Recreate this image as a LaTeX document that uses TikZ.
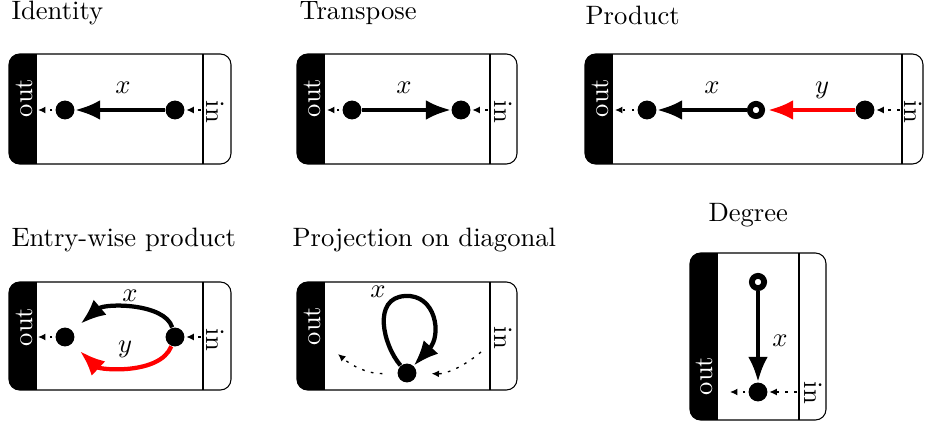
\documentclass[tikz,border=0pt]{standalone}
\usetikzlibrary{arrows.meta}
\newcommand{\dbox}[5]{%
  \begin{scope}
    \clip[rounded corners=4pt] (#1,#2) rectangle (#3,#4);
    \fill[black] (#1,#2) rectangle ({#1+28},#4);
  \end{scope}
  \draw[rounded corners=4pt] (#1,#2) rectangle (#3,#4);
  \draw (#5,#2) -- (#5,#4);
}
\begin{document}
\begin{tikzpicture}[x=0.376pt,y=-0.376pt,
  dot/.style={circle,fill=black,inner sep=0pt,minimum size=7.1pt},
  hdot/.style={circle,draw=black,fill=white,line width=2.2pt,inner sep=0pt,minimum size=4.6pt},
  heavy/.style={line width=1.6pt,-{Latex[length=9.5pt,width=7.5pt]}},
  dasharrow/.style={line width=0.5pt,dash pattern=on 1pt off 2.4pt,-{Latex[length=2.8pt,width=2.6pt]}},
  outlabel/.style={text=white,rotate=90,inner sep=0pt},
  inlabel/.style={rotate=-90,inner sep=0pt},
  title/.style={anchor=base west,inner sep=0pt},
  lab/.style={inner sep=0pt}]
\useasboundingbox (0,0) rectangle (927,424);

% ---------- Identity
\dbox{9}{54}{231}{164}{203}
\node[title] (t1) at (11,20) {Identity};
\node[outlabel] (o1) at (24,98) {out};
\node[inlabel] (i1) at (215,112) {in};
\node[dot] (a1) at (65,110) {};
\node[dot] (b1) at (175,110) {};
\draw[heavy] (b1) -- (a1);
\node[lab] (x1) at (123,88) {$x$};
\coordinate (ao1) at (38,110);
\coordinate (bi1) at (201,110);
\draw[dasharrow,shorten <=1pt] (a1) -- (ao1);
\draw[dasharrow,shorten >=0.5pt] (bi1) -- (b1);

% ---------- Transpose
\dbox{297}{54}{517}{164}{490}
\node[title] (t2) at (299,20) {Transpose};
\node[outlabel] (o2) at (312,98) {out};
\node[inlabel] (i2) at (503,112) {in};
\node[dot] (a2) at (352,110) {};
\node[dot] (b2) at (461,110) {};
\draw[heavy] (a2) -- (b2);
\node[lab] (x2) at (404,88) {$x$};
\coordinate (ao2) at (327,110);
\coordinate (bi2) at (488,110);
\draw[dasharrow,shorten <=1pt] (a2) -- (ao2);
\draw[dasharrow,shorten >=0.5pt] (bi2) -- (b2);

% ---------- Product
\dbox{585}{54}{923}{164}{902}
\node[title] (t3) at (585,25) {Product};
\node[outlabel] (o3) at (600,98) {out};
\node[inlabel] (i3) at (913,112) {in};
\node[dot] (a3) at (647,110) {};
\node[hdot] (m3) at (756,110) {};
\node[dot] (b3) at (865,110) {};
\draw[heavy] (m3) -- (a3);
\draw[heavy,red,shorten >=1.1pt] (b3) -- (m3);
\node[lab] (x3) at (712,88) {$x$};
\node[lab] (y3) at (822,90) {$y$};
\coordinate (ao3) at (615,110);
\coordinate (bi3) at (900,110);
\draw[dasharrow,shorten <=1pt] (a3) -- (ao3);
\draw[dasharrow,shorten >=0.5pt] (bi3) -- (b3);

% ---------- Entry-wise product
\dbox{9}{282}{231}{390}{203}
\node[title] (t4) at (11,247) {Entry-wise product};
\node[outlabel] (o4) at (24,327) {out};
\node[inlabel] (i4) at (215,340) {in};
\node[dot] (a4) at (65,337) {};
\node[dot] (b4) at (175,337) {};
\draw[heavy,shorten >=4pt] (b4) .. controls (165,303) and (105,303) .. (a4);
\draw[heavy,red,shorten >=4pt] (b4) .. controls (160,375) and (100,370) .. (a4);
\node[lab] (x4) at (130,296) {$x$};
\node[lab] (y4) at (125,349) {$y$};
\coordinate (ao4) at (38,337);
\coordinate (bi4) at (201,337);
\draw[dasharrow,shorten <=1pt] (a4) -- (ao4);
\draw[dasharrow,shorten >=0.5pt] (bi4) -- (b4);

% ---------- Projection on diagonal
\dbox{297}{282}{517}{390}{490}
\node[title] (t5) at (292,247) {Projection on diagonal};
\node[outlabel] (o5) at (312,326) {out};
\node[inlabel] (i5) at (503,338) {in};
\node[dot] (d5) at (407,373) {};
\draw[heavy] (d5) .. controls (383,345) and (372,298) .. (405,296)
              .. controls (436,294) and (442,335) .. (d5);
\node[lab] (x5) at (378,292) {$x$};
\coordinate (pr5) at (481,352);
\coordinate (pl5) at (338,354);
\draw[dasharrow,shorten >=5.5pt] (pr5) .. controls (462,368) and (445,374) .. (d5);
\draw[dasharrow,shorten <=5.5pt] (d5) .. controls (368,374) and (352,366) .. (pl5);

% ---------- Degree
\dbox{690}{253}{826}{420}{799}
\node[title] (t6) at (708,222) {Degree};
\node[outlabel] (o6) at (704,376) {out};
\node[inlabel] (i6) at (813,393) {in};
\node[hdot] (h6) at (758,282) {};
\node[dot] (f6) at (758,392) {};
\draw[heavy] (h6) -- (f6);
\node[lab] (x6) at (780,341) {$x$};
\coordinate (ao6) at (730,392);
\coordinate (bi6) at (797,392);
\draw[dasharrow,shorten <=1pt] (f6) -- (ao6);
\draw[dasharrow,shorten >=0.5pt] (bi6) -- (f6);
\end{tikzpicture}
\end{document}
